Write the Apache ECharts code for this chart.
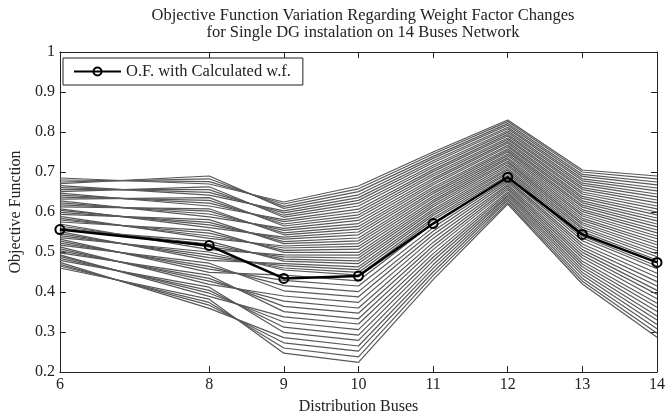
<!DOCTYPE html>
<html>
<head>
<meta charset="utf-8">
<script src="https://cdn.jsdelivr.net/npm/echarts@6/dist/echarts.min.js"></script>
<style>
  html, body { margin: 0; padding: 0; background: #fff; }
  #chart { width: 668px; height: 420px; }
</style>
</head>
<body>
<div id="chart"></div>
<script>
// buses on the x axis (no bus 7)
const buses = [6, 8, 9, 10, 11, 12, 13, 14];
const xTicks = [6, 8, 9, 10, 11, 12, 13, 14];
// O.F. with calculated weight factors
const ofCalc = [0.556, 0.516, 0.434, 0.44, 0.571, 0.687, 0.544, 0.474];
// O.F. for varied weight factors, one row per combination (values at the 8 buses)
const wfLines = [
  [0.685, 0.670, 0.625, 0.665, 0.750, 0.830, 0.705, 0.690],
  [0.680, 0.676, 0.620, 0.658, 0.745, 0.826, 0.700, 0.683],
  [0.675, 0.683, 0.614, 0.651, 0.739, 0.821, 0.694, 0.675],
  [0.671, 0.690, 0.609, 0.643, 0.734, 0.817, 0.689, 0.668],
  [0.666, 0.642, 0.603, 0.636, 0.728, 0.812, 0.683, 0.660],
  [0.661, 0.649, 0.598, 0.629, 0.723, 0.808, 0.678, 0.653],
  [0.656, 0.656, 0.592, 0.622, 0.717, 0.803, 0.672, 0.645],
  [0.651, 0.663, 0.587, 0.615, 0.712, 0.799, 0.667, 0.638],
  [0.647, 0.615, 0.581, 0.607, 0.706, 0.794, 0.661, 0.630],
  [0.642, 0.622, 0.576, 0.600, 0.701, 0.790, 0.656, 0.623],
  [0.637, 0.629, 0.570, 0.593, 0.695, 0.785, 0.650, 0.615],
  [0.632, 0.636, 0.565, 0.586, 0.690, 0.781, 0.645, 0.608],
  [0.628, 0.588, 0.559, 0.579, 0.684, 0.776, 0.639, 0.600],
  [0.623, 0.595, 0.554, 0.571, 0.679, 0.772, 0.634, 0.593],
  [0.618, 0.602, 0.548, 0.564, 0.673, 0.767, 0.628, 0.585],
  [0.613, 0.608, 0.543, 0.557, 0.668, 0.763, 0.623, 0.578],
  [0.608, 0.561, 0.537, 0.550, 0.662, 0.758, 0.617, 0.570],
  [0.604, 0.568, 0.532, 0.543, 0.657, 0.754, 0.612, 0.563],
  [0.599, 0.574, 0.526, 0.535, 0.651, 0.750, 0.606, 0.555],
  [0.594, 0.581, 0.521, 0.528, 0.646, 0.745, 0.601, 0.548],
  [0.589, 0.534, 0.515, 0.521, 0.640, 0.741, 0.595, 0.540],
  [0.584, 0.540, 0.510, 0.514, 0.635, 0.736, 0.590, 0.533],
  [0.580, 0.547, 0.504, 0.507, 0.629, 0.732, 0.584, 0.525],
  [0.575, 0.554, 0.499, 0.499, 0.624, 0.727, 0.579, 0.518],
  [0.570, 0.506, 0.493, 0.492, 0.618, 0.723, 0.573, 0.510],
  [0.565, 0.513, 0.488, 0.485, 0.613, 0.718, 0.568, 0.503],
  [0.560, 0.520, 0.482, 0.478, 0.607, 0.714, 0.562, 0.495],
  [0.556, 0.527, 0.477, 0.471, 0.602, 0.709, 0.557, 0.488],
  [0.551, 0.479, 0.471, 0.463, 0.596, 0.705, 0.551, 0.480],
  [0.546, 0.486, 0.466, 0.456, 0.591, 0.700, 0.546, 0.473],
  [0.541, 0.493, 0.460, 0.449, 0.585, 0.696, 0.540, 0.465],
  [0.536, 0.500, 0.455, 0.442, 0.580, 0.691, 0.535, 0.458],
  [0.532, 0.449, 0.442, 0.428, 0.571, 0.687, 0.528, 0.447],
  [0.527, 0.457, 0.429, 0.415, 0.561, 0.682, 0.520, 0.437],
  [0.522, 0.464, 0.416, 0.401, 0.552, 0.678, 0.513, 0.426],
  [0.517, 0.472, 0.403, 0.388, 0.543, 0.674, 0.506, 0.415],
  [0.513, 0.419, 0.390, 0.374, 0.534, 0.669, 0.499, 0.404],
  [0.508, 0.427, 0.377, 0.360, 0.524, 0.665, 0.492, 0.394],
  [0.503, 0.434, 0.364, 0.347, 0.515, 0.660, 0.485, 0.383],
  [0.498, 0.442, 0.351, 0.333, 0.506, 0.656, 0.477, 0.372],
  [0.493, 0.389, 0.338, 0.320, 0.496, 0.651, 0.470, 0.362],
  [0.489, 0.397, 0.325, 0.306, 0.487, 0.647, 0.463, 0.351],
  [0.484, 0.404, 0.312, 0.292, 0.478, 0.642, 0.456, 0.340],
  [0.479, 0.412, 0.299, 0.279, 0.468, 0.638, 0.449, 0.330],
  [0.474, 0.359, 0.286, 0.265, 0.459, 0.633, 0.442, 0.319],
  [0.469, 0.367, 0.273, 0.252, 0.450, 0.629, 0.434, 0.308],
  [0.465, 0.374, 0.260, 0.238, 0.441, 0.624, 0.427, 0.297],
  [0.460, 0.382, 0.247, 0.224, 0.431, 0.620, 0.420, 0.287]
];

const font = "'Liberation Serif', 'Times New Roman', serif";
const ink = "#222";

const chart = echarts.init(document.getElementById("chart"));

const series = wfLines.map((row, i) => ({
  name: "wf" + i,
  type: "line",
  data: buses.map((b, j) => [b, row[j]]),
  symbol: "none",
  silent: true,
  lineStyle: { color: "#585858", width: 1.2 },
  z: 1,
}));

series.push({
  name: "O.F. with Calculated w.f.",
  type: "line",
  data: buses.map((b, j) => [b, ofCalc[j]]),
  symbol: "circle",
  symbolSize: 9,
  lineStyle: { color: "#000", width: 2.5 },
  itemStyle: { color: "rgba(0,0,0,0)", borderColor: "#000", borderWidth: 2 },
  z: 5,
});

const tickStyle = { inside: true, length: 6, lineStyle: { color: ink } };

chart.setOption({
  animation: false,
  title: {
    text: "Objective Function Variation Regarding Weight Factor Changes\nfor Single DG instalation on 14 Buses Network",
    left: 358,
    top: 2,
    textAlign: "center",
    textStyle: {
      fontFamily: font,
      fontSize: 16.5,
      fontWeight: "normal",
      lineHeight: 17,
      color: ink,
    },
  },
  legend: {
    data: ["O.F. with Calculated w.f."],
    left: 63,
    top: 58,
    padding: [5, 12, 5, 10],
    itemWidth: 47,
    itemHeight: 10,
    backgroundColor: "#fff",
    borderColor: ink,
    borderWidth: 1,
    textStyle: { fontFamily: font, fontSize: 16.5, color: ink },
  },
  grid: { left: 55, right: 7, top: 52, bottom: 46 },
  xAxis: [
    {
      type: "value",
      min: 6,
      max: 14,
      position: "bottom",
      name: "Distribution Buses",
      nameLocation: "middle",
      nameGap: 27,
      nameTextStyle: { fontFamily: font, fontSize: 16, color: ink },
      axisLine: { lineStyle: { color: ink } },
      axisTick: Object.assign({ customValues: xTicks }, tickStyle),
      axisLabel: {
        customValues: xTicks,
        margin: 5,
        fontFamily: font,
        fontSize: 16,
        color: ink,
      },
      splitLine: { show: false },
    },
    {
      type: "value",
      min: 6,
      max: 14,
      position: "top",
      axisLine: { lineStyle: { color: ink } },
      axisTick: Object.assign({ customValues: xTicks }, tickStyle),
      axisLabel: { show: false },
      splitLine: { show: false },
    },
  ],
  yAxis: [
    {
      type: "value",
      min: 0.2,
      max: 1,
      interval: 0.1,
      position: "left",
      name: "Objective Function",
      nameLocation: "middle",
      nameGap: 35,
      nameTextStyle: { fontFamily: font, fontSize: 16, color: ink },
      axisLine: { show: true, lineStyle: { color: ink } },
      axisTick: tickStyle,
      axisLabel: {
        margin: 5,
        fontFamily: font,
        fontSize: 16,
        color: ink,
        formatter: (v) => String(Math.round(v * 10) / 10),
      },
      splitLine: { show: false },
    },
    {
      type: "value",
      min: 0.2,
      max: 1,
      interval: 0.1,
      position: "right",
      axisLine: { show: true, lineStyle: { color: ink } },
      axisTick: tickStyle,
      axisLabel: { show: false },
      splitLine: { show: false },
    },
  ],
  series: series,
});
</script>
</body>
</html>
